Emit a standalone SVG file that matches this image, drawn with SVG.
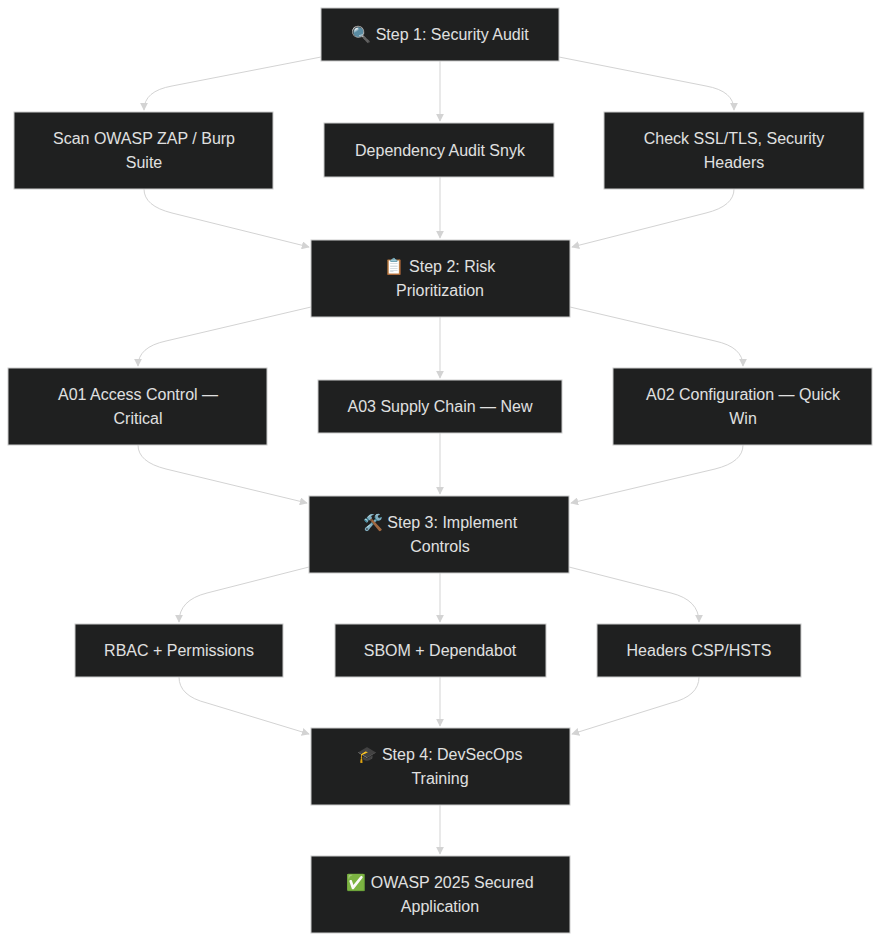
<svg xmlns="http://www.w3.org/2000/svg" width="881" height="942" viewBox="0 0 881 942">
<defs>
<style>
.n rect{fill:#1f2020;stroke:#cccccc;stroke-width:1}
.n text{fill:#e0e0e0;font-family:"Liberation Sans",Arial,"Noto Color Emoji",sans-serif;font-size:16px;text-anchor:middle}
.e path{fill:none;stroke:#d3d3d3;stroke-width:1;marker-end:url(#a)}
</style>
<marker id="a" viewBox="0 0 10 10" refX="9" refY="5" markerWidth="8" markerHeight="8" orient="auto"><path d="M0,0L10,5L0,10z" fill="#d3d3d3"/></marker>
</defs>
<rect width="881" height="942" fill="#ffffff"/>
<g class="e">
<path d="M321,57 L172,86 Q144,91 144,110"/>
<path d="M440,61 L440,121"/>
<path d="M559,57 L706,86 Q734,91 734,110"/>
<path d="M144,189 Q144,206 172,213 L309,247"/>
<path d="M440,177 L440,238"/>
<path d="M734,189 Q734,206 706,213 L572,247"/>
<path d="M311,307 L166,341 Q138,347 138,366"/>
<path d="M440,317 L440,378"/>
<path d="M570,307 L715,341 Q743,347 743,366"/>
<path d="M138,445 Q138,462 166,469 L307,503"/>
<path d="M440,433 L440,494"/>
<path d="M743,445 Q743,462 715,469 L571,503"/>
<path d="M309,567 L207,593 Q179,600 179,622"/>
<path d="M440,573 L440,622"/>
<path d="M569,567 L671,593 Q699,600 699,622"/>
<path d="M179,677 Q179,696 207,703 L309,734"/>
<path d="M440,677 L440,726"/>
<path d="M699,677 Q699,696 671,703 L572,734"/>
<path d="M440,805 L440,854"/>
</g>
<g id="n1" class="n"><rect x="321" y="8" width="238" height="53"/><text x="440" y="40">🔍 Step 1: Security Audit</text></g>
<g id="n2" class="n"><rect x="14" y="112" width="259" height="77"/><text x="144" y="144">Scan OWASP ZAP / Burp</text><text x="144" y="168">Suite</text></g>
<g id="n3" class="n"><rect x="324" y="123" width="230" height="54"/><text x="440" y="156">Dependency Audit Snyk</text></g>
<g id="n4" class="n"><rect x="604" y="112" width="260" height="77"/><text x="734" y="144">Check SSL/TLS, Security</text><text x="734" y="168">Headers</text></g>
<g id="n5" class="n"><rect x="311" y="240" width="259" height="77"/><text x="440" y="272">📋 Step 2: Risk</text><text x="440" y="296">Prioritization</text></g>
<g id="n6" class="n"><rect x="8" y="368" width="259" height="77"/><text x="138" y="400">A01 Access Control —</text><text x="138" y="424">Critical</text></g>
<g id="n7" class="n"><rect x="318" y="380" width="244" height="53"/><text x="440" y="412">A03 Supply Chain — New</text></g>
<g id="n8" class="n"><rect x="613" y="368" width="259" height="77"/><text x="743" y="400">A02 Configuration — Quick</text><text x="743" y="424">Win</text></g>
<g id="n9" class="n"><rect x="309" y="496" width="260" height="77"/><text x="440" y="528">🛠️ Step 3: Implement</text><text x="440" y="552">Controls</text></g>
<g id="n10" class="n"><rect x="75" y="624" width="208" height="53"/><text x="179" y="656">RBAC + Permissions</text></g>
<g id="n11" class="n"><rect x="335" y="624" width="211" height="53"/><text x="440" y="656">SBOM + Dependabot</text></g>
<g id="n12" class="n"><rect x="597" y="624" width="204" height="53"/><text x="699" y="656">Headers CSP/HSTS</text></g>
<g id="n13" class="n"><rect x="311" y="728" width="259" height="77"/><text x="440" y="760">🎓 Step 4: DevSecOps</text><text x="440" y="784">Training</text></g>
<g id="n14" class="n"><rect x="311" y="856" width="259" height="77"/><text x="440" y="888">✅ OWASP 2025 Secured</text><text x="440" y="912">Application</text></g>
</svg>
